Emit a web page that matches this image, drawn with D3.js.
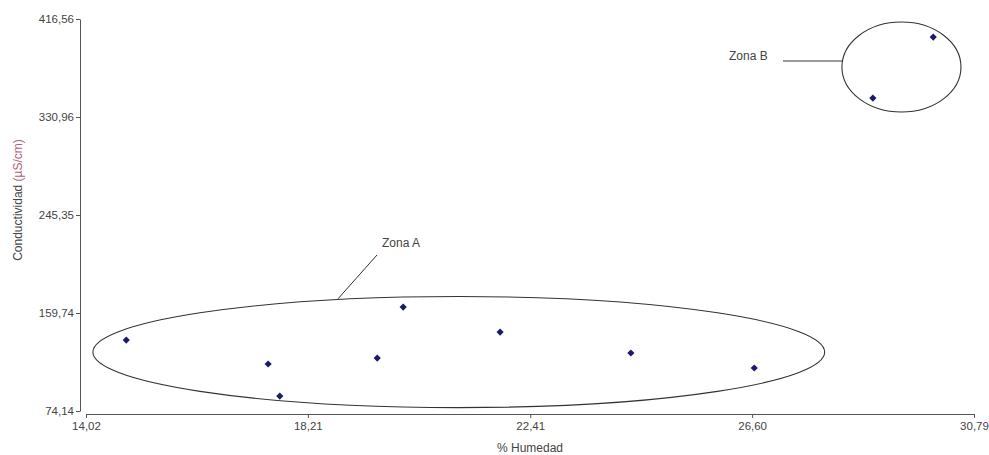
<!DOCTYPE html>
<html>
<head>
<meta charset="utf-8">
<script src="https://cdn.jsdelivr.net/npm/d3@7"></script>
<style>
  body { margin: 0; background: #fff; }
  svg text { font-family: "Liberation Sans", Arial, sans-serif; }
</style>
</head>
<body>
<svg id="chart"></svg>
<script>
const width = 989;
const height = 455;

// % Humedad vs Conductividad (uS/cm)
const humedad = [14.78, 17.46, 17.68, 19.52, 20.01, 21.84, 24.31, 26.64, 28.88, 30.02];
const conductividad = [136.1, 115.2, 87.2, 120.4, 164.9, 143.1, 124.8, 111.7, 347.5, 400.8];

const xTicks = [14.02, 18.21, 22.41, 26.60, 30.79];
const yTicks = [74.14, 159.74, 245.35, 330.96, 416.56];

// zones drawn as ellipses (data units): name, centre x, centre y, radius x, radius y
const zoneNames = ["Zona A", "Zona B"];
const zoneCx = [21.06, 29.42];
const zoneCy = [125.6, 374.6];
const zoneRx = [6.91, 1.124];
const zoneRy = [48.5, 39.3];

const loc = d3.formatLocale({decimal: ",", thousands: ".", grouping: [3], currency: ["", ""]});
const fmt = loc.format(".2f");

const svg = d3.select("#chart")
  .attr("width", width)
  .attr("height", height);

const xScale = d3.scaleLinear()
  .domain([xTicks[0], xTicks[xTicks.length - 1]])
  .range([86, 974]);

const yScale = d3.scaleLinear()
  .domain([yTicks[0], yTicks[yTicks.length - 1]])
  .range([411, 19]);

// y axis
svg.append("g")
  .attr("transform", "translate(80,0)")
  .call(d3.axisLeft(yScale).tickValues(yTicks).tickFormat(fmt).tickSize(4).tickPadding(2).tickSizeOuter(0));

// x axis (offset below, as in the original)
svg.append("g")
  .attr("transform", "translate(0,414)")
  .call(d3.axisBottom(xScale).tickValues(xTicks).tickFormat(fmt).tickSize(4).tickPadding(4).tickSizeOuter(0));

svg.selectAll(".domain, .tick line").attr("stroke", "#555");
svg.selectAll(".tick text").attr("fill", "#444").style("font-size", "11.5px");

// axis titles
svg.append("text")
  .attr("x", 530)
  .attr("y", 452)
  .attr("text-anchor", "middle")
  .attr("fill", "#444")
  .style("font-size", "12px")
  .text("% Humedad");

const yTitle = svg.append("text")
  .attr("transform", "translate(22,200) rotate(-90)")
  .attr("text-anchor", "middle")
  .attr("fill", "#444")
  .style("font-size", "12px");
yTitle.append("tspan").text("Conductividad  ");
yTitle.append("tspan").attr("fill", "#b0607a").text("(\u00b5S/cm)");

// zone ellipses
const zones = zoneNames.map((n, i) => ({name: n, cx: zoneCx[i], cy: zoneCy[i], rx: zoneRx[i], ry: zoneRy[i]}));

svg.selectAll("ellipse.zone")
  .data(zones).enter().append("ellipse")
  .attr("class", "zone")
  .attr("cx", d => xScale(d.cx))
  .attr("cy", d => yScale(d.cy))
  .attr("rx", d => xScale(d.cx + d.rx) - xScale(d.cx))
  .attr("ry", d => yScale(d.cy - d.ry) - yScale(d.cy))
  .attr("fill", "none")
  .attr("stroke", "#333")
  .attr("stroke-width", 1.1);

// Zona A label with leader line
const zA = zones[0];
svg.append("line")
  .attr("x1", 377).attr("y1", 255)
  .attr("x2", 338).attr("y2", yScale(zA.cy + zA.ry * 0.96))
  .attr("stroke", "#333");
svg.append("text")
  .attr("x", 382).attr("y", 247)
  .attr("fill", "#444")
  .style("font-size", "12px")
  .text(zA.name);

// Zona B label with leader line
const zB = zones[1];
svg.append("line")
  .attr("x1", 783).attr("y1", 61)
  .attr("x2", xScale(zB.cx - zB.rx)).attr("y2", 61)
  .attr("stroke", "#333");
svg.append("text")
  .attr("x", 729).attr("y", 60)
  .attr("fill", "#444")
  .style("font-size", "12px")
  .text(zB.name);

// points
const points = humedad.map((h, i) => ({x: h, y: conductividad[i]}));
svg.selectAll("path.pt")
  .data(points).enter().append("path")
  .attr("class", "pt")
  .attr("d", d3.symbol(d3.symbolSquare).size(26))
  .attr("transform", d => `translate(${xScale(d.x)},${yScale(d.y)}) rotate(45)`)
  .attr("fill", "#1c1a6b");
</script>
</body>
</html>
